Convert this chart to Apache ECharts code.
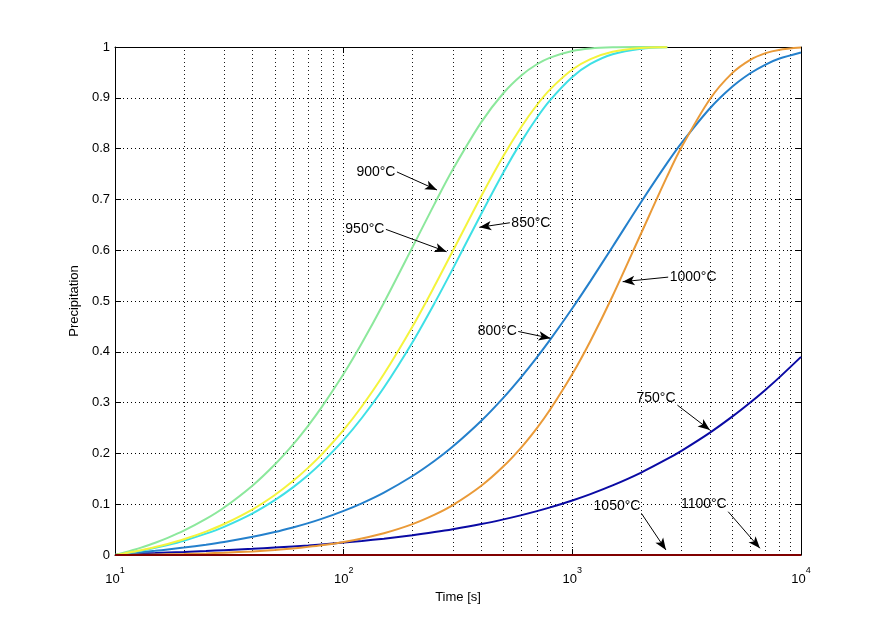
<!DOCTYPE html>
<html>
<head>
<meta charset="utf-8">
<script src="https://cdn.jsdelivr.net/npm/echarts@6/dist/echarts.min.js"></script>
<style>
html,body{margin:0;padding:0;background:#ffffff;}
#chart{width:885px;height:625px;}
</style>
</head>
<body>
<div id="chart"></div>
<script>
// ---- data (time in s, precipitation fraction) ----
const times = [10, 11, 12, 13, 15, 17, 20, 25, 30, 40, 50, 60, 70, 80, 100, 120, 150, 200, 250, 300, 400, 500, 600, 700, 800, 1000, 1200, 1500, 2000, 2600, 3000, 4000, 5000, 6000, 7000, 8000, 10000];

const p750  = [0, 0.0014, 0.0022, 0.0028, 0.0039, 0.0049, 0.0061, 0.0079, 0.0095, 0.0122, 0.0147, 0.0169, 0.0189, 0.0209, 0.0244, 0.0277, 0.0322, 0.0390, 0.0451, 0.0507, 0.0609, 0.0701, 0.0785, 0.0863, 0.0937, 0.1074, 0.1199, 0.1370, 0.1623, 0.1890, 0.2050, 0.2409, 0.2723, 0.3002, 0.3255, 0.3487, 0.3900];
const p800  = [0, 0.0022, 0.0039, 0.0054, 0.0082, 0.0109, 0.0146, 0.0203, 0.0257, 0.0359, 0.0453, 0.0543, 0.0628, 0.0711, 0.0869, 0.1018, 0.1229, 0.1555, 0.1855, 0.2134, 0.2643, 0.3099, 0.3513, 0.3891, 0.4239, 0.4858, 0.5392, 0.6069, 0.6949, 0.7718, 0.8107, 0.8794, 0.9216, 0.9483, 0.9655, 0.9768, 0.9892];
const p850  = [0, 0.0029, 0.0057, 0.0085, 0.0142, 0.0198, 0.0282, 0.0420, 0.0555, 0.0821, 0.1080, 0.1331, 0.1575, 0.1813, 0.2267, 0.2697, 0.3297, 0.4189, 0.4963, 0.5633, 0.6718, 0.7534, 0.8147, 0.8608, 0.8954, 0.9409, 0.9666, 0.9858, 0.9966, 0.9994, null, null, null, null, null, null, null];
const p900  = [0, 0.0049, 0.0098, 0.0146, 0.0242, 0.0337, 0.0478, 0.0709, 0.0934, 0.1370, 0.1782, 0.2173, 0.2548, 0.2905, 0.3567, 0.4168, 0.4966, 0.6060, 0.6916, 0.7587, 0.8522, 0.9095, 0.9445, 0.9660, 0.9792, 0.9922, 0.9971, 0.9993, 0.9999, 1.0, null, null, null, null, null, null, null];
const p950  = [0, 0.0031, 0.0063, 0.0094, 0.0156, 0.0218, 0.0310, 0.0461, 0.0610, 0.0900, 0.1182, 0.1455, 0.1720, 0.1976, 0.2465, 0.2924, 0.3562, 0.4498, 0.5299, 0.5983, 0.7067, 0.7858, 0.8436, 0.8858, 0.9166, 0.9556, 0.9763, 0.9908, 0.9981, 0.9997, null, null, null, null, null, null, null];
const p1000 = [0, 0.0001, 0.0003, 0.0005, 0.0009, 0.0013, 0.0019, 0.0031, 0.0044, 0.0071, 0.0099, 0.0129, 0.0160, 0.0191, 0.0257, 0.0324, 0.0428, 0.0608, 0.0794, 0.0982, 0.1364, 0.1746, 0.2125, 0.2498, 0.2863, 0.3561, 0.4212, 0.5098, 0.6333, 0.7457, 0.8025, 0.8977, 0.9486, 0.9748, 0.9880, 0.9943, 0.9988];
const p1050 = [0, 0, 0, 0, 0, 0, 0, 0, 0, 0, 0, 0, 0, 0, 0, 0, 0, 0, 0, 0, 0, 0, 0, 0, 0, 0, 0, 0, 0, 0, 0, 0, 0, 0, 0, 0, 0];
const p1100 = [0, 0, 0, 0, 0, 0, 0, 0, 0, 0, 0, 0, 0, 0, 0, 0, 0, 0, 0, 0, 0, 0, 0, 0, 0, 0, 0, 0, 0, 0, 0, 0, 0, 0, 0, 0, 0];

const seriesNames  = ['750°C', '800°C', '850°C', '900°C', '950°C', '1000°C', '1050°C', '1100°C'];
const seriesValues = [p750, p800, p850, p900, p950, p1000, p1050, p1100];
const seriesColors = ['#0a0aa4', '#2480cc', '#3ee0e6', '#8ce89c', '#f4f43c', '#ea9a38', '#b00000', '#800000'];

const xMajorTicks = [10, 100, 1000, 10000];
const xMinorTicks = [20, 30, 40, 50, 60, 70, 80, 90, 200, 300, 400, 500, 600, 700, 800, 900, 2000, 3000, 4000, 5000, 6000, 7000, 8000, 9000];

// annotation: text, text anchor, arrow start, arrow tip (data coords), side of text
const annotations = [
  {text: '900°C',  at: [171, 0.754],   from: [171, 0.754],   to: [256, 0.7185],  side: 'left'},
  {text: '950°C',  at: [153, 0.641],   from: [153, 0.641],   to: [282, 0.597],   side: 'left'},
  {text: '850°C',  at: [533, 0.654],   from: [533, 0.654],   to: [392, 0.645],   side: 'right'},
  {text: '1000°C', at: [2625, 0.547],  from: [2625, 0.547],  to: [1660, 0.538],  side: 'right'},
  {text: '800°C',  at: [580, 0.44],    from: [580, 0.44],    to: [803, 0.4266],  side: 'left'},
  {text: '750°C',  at: [2870, 0.309],  from: [2880, 0.295],  to: [3996, 0.2460], side: 'left'},
  {text: '1050°C', at: [2015, 0.0965], from: [2005, 0.082],  to: [2567, 0.0098], side: 'left'},
  {text: '1100°C', at: [4805, 0.1004], from: [4805, 0.0852], to: [6613, 0.0132], side: 'left'}
];

const FONT = "'Liberation Sans', Arial, Helvetica, sans-serif";
const dotted = [1, 3];

const chart = echarts.init(document.getElementById('chart'), null, {renderer: 'canvas'});

const series = seriesNames.map((name, i) => {
  const pts = [];
  times.forEach((t, k) => { if (seriesValues[i][k] !== null) pts.push([t, seriesValues[i][k]]); });
  return {
    name: name,
    type: 'line',
    data: pts,
    xAxisIndex: 0, yAxisIndex: 0,
    showSymbol: false,
    symbol: 'none',
    smooth: 0.3,
    lineStyle: {color: seriesColors[i], width: 2},
    itemStyle: {color: seriesColors[i]},
    z: 3 + i,
    silent: true
  };
});

// minor dotted grid lines (log decades 2..9)
series[0].markLine = {
  silent: true, animation: false, z: 1,
  symbol: ['none', 'none'],
  label: {show: false},
  lineStyle: {color: '#000', width: 1, type: dotted, opacity: 0.9},
  emphasis: {disabled: true},
  data: xMinorTicks.map(v => ({xAxis: v}))
};

// annotation arrows + texts
series[7].markLine = {
  silent: true, animation: false, z: 20,
  symbol: ['none', 'arrow'],
  symbolSize: [7, 12],
  label: {show: false},
  lineStyle: {color: '#000', width: 1, type: 'solid'},
  emphasis: {disabled: true},
  data: annotations.map(a => [{coord: a.from}, {coord: a.to}])
};
series[7].markPoint = {
  silent: true, animation: false, z: 20,
  symbol: 'circle', symbolSize: 1,
  itemStyle: {color: 'rgba(0,0,0,0)'},
  label: {show: true, color: '#000', fontSize: 14, fontFamily: FONT, distance: 1, formatter: p => p.name},
  emphasis: {disabled: true},
  data: annotations.map(a => ({name: a.text, coord: a.at, label: {position: a.side}}))
};

const option = {
  animation: false,
  backgroundColor: '#ffffff',
  grid: {left: 115, right: 84, top: 47, bottom: 70, containLabel: false},
  xAxis: [
    {
      type: 'log', logBase: 10, min: xMajorTicks[0], max: xMajorTicks[xMajorTicks.length - 1],
      position: 'bottom',
      name: 'Time [s]', nameLocation: 'middle', nameGap: 36,
      nameTextStyle: {color: '#000', fontSize: 13, fontFamily: FONT},
      axisLine: {show: true, onZero: false, lineStyle: {color: '#000', width: 1}},
      axisTick: {show: true, inside: true, length: 6, lineStyle: {color: '#000'}},
      axisLabel: {
        show: true, margin: 11, color: '#000', fontFamily: FONT,
        formatter: v => '{b|10}{e|' + Math.round(Math.log10(v)) + '}',
        rich: {
          b: {fontSize: 13, lineHeight: 20, verticalAlign: 'bottom', fontFamily: FONT, color: '#000'},
          e: {fontSize: 9, lineHeight: 10, verticalAlign: 'top', fontFamily: FONT, color: '#000'}
        }
      },
      splitLine: {show: true, lineStyle: {color: '#000', width: 1, type: dotted}}
    },
    {
      type: 'log', logBase: 10, min: xMajorTicks[0], max: xMajorTicks[xMajorTicks.length - 1],
      position: 'top',
      axisLine: {show: true, onZero: false, lineStyle: {color: '#000', width: 1}},
      axisTick: {show: true, inside: true, length: 6, lineStyle: {color: '#000'}},
      axisLabel: {show: false},
      splitLine: {show: false}
    }
  ],
  yAxis: [
    {
      type: 'value', min: 0, max: 1, interval: 0.1,
      position: 'left',
      name: 'Precipitation', nameLocation: 'middle', nameGap: 25,
      nameTextStyle: {color: '#000', fontSize: 13, fontFamily: FONT},
      axisLine: {show: true, onZero: false, lineStyle: {color: '#000', width: 1}},
      axisTick: {show: true, inside: true, length: 6, lineStyle: {color: '#000'}},
      axisLabel: {show: true, margin: 5, color: '#000', fontSize: 13, fontFamily: FONT},
      splitLine: {show: true, lineStyle: {color: '#000', width: 1, type: dotted}}
    },
    {
      type: 'value', min: 0, max: 1, interval: 0.1,
      position: 'right',
      axisLine: {show: true, onZero: false, lineStyle: {color: '#000', width: 1}},
      axisTick: {show: true, inside: true, length: 6, lineStyle: {color: '#000'}},
      axisLabel: {show: false},
      splitLine: {show: false}
    }
  ],
  series: series
};

chart.setOption(option);
</script>
</body>
</html>
